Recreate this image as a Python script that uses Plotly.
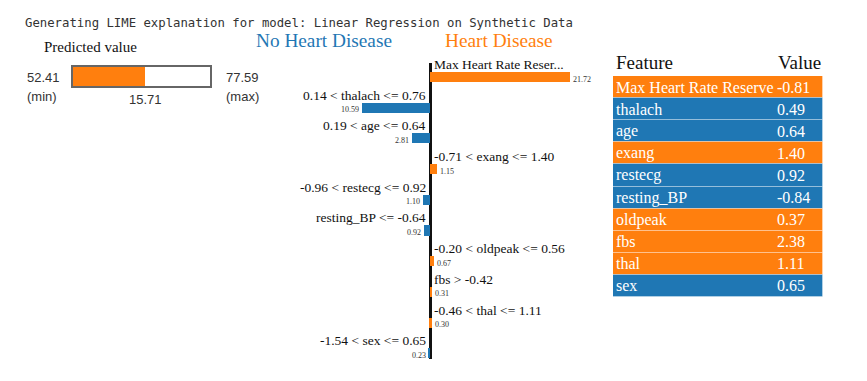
import plotly.graph_objects as go

# LIME explanation data
pred_min = 52.41
pred_max = 77.59
pred_value = 15.71
pred_fill = 65.65  # where the orange fill ends on the min..max scale

rule_labels = [
    "Max Heart Rate Reser...",
    "0.14 < thalach <= 0.76",
    "0.19 < age <= 0.64",
    "-0.71 < exang <= 1.40",
    "-0.96 < restecg <= 0.92",
    "resting_BP <= -0.64",
    "-0.20 < oldpeak <= 0.56",
    "fbs > -0.42",
    "-0.46 < thal <= 1.11",
    "-1.54 < sex <= 0.65",
]
weights = [21.72, -10.59, -2.81, 1.15, -1.10, -0.92, 0.67, 0.31, 0.30, -0.23]

table_features = ["Max Heart Rate Reserve", "thalach", "age", "exang", "restecg",
                  "resting_BP", "oldpeak", "fbs", "thal", "sex"]
table_values = ["-0.81", "0.49", "0.64", "1.40", "0.92", "-0.84", "0.37", "2.38", "1.11", "0.65"]

ORANGE = "#ff7f0e"
BLUE = "#1f77b4"
SERIF = "Liberation Serif"
SANS = "Liberation Sans"

# the page body has an 8px margin, so the figure is a bit smaller than the window
OFF = 8
W, H = 867 - OFF, 381 - OFF


def px_x(x):
    return (x - OFF) / W


def px_y(y):
    return 1 - (y - OFF) / H


def esc(s):
    return s.replace("<", "&lt;").replace(">", "&gt;")


rows = list(range(len(weights)))
colors = [ORANGE if w > 0 else BLUE for w in weights]

fig = go.Figure()

# contribution bars
fig.add_trace(go.Bar(
    x=weights, y=rows, orientation="h", width=0.33,
    marker=dict(color=colors, line=dict(width=0)),
    hoverinfo="skip", showlegend=False,
))

# predicted value bar
fig.add_trace(go.Bar(
    x=[pred_fill - pred_min], base=[pred_min], y=[0], orientation="h", width=1,
    marker=dict(color=ORANGE, line=dict(width=0)),
    xaxis="x2", yaxis="y2", hoverinfo="skip", showlegend=False,
))

# feature table row backgrounds
fig.add_trace(go.Bar(
    x=[1] * len(table_features), y=rows, orientation="h", width=1,
    marker=dict(color=colors, line=dict(color="rgba(255,255,255,0.3)", width=1)),
    xaxis="x3", yaxis="y3", hoverinfo="skip", showlegend=False,
))

annotations = []
for i, (lab, w) in enumerate(zip(rule_labels, weights)):
    annotations.append(dict(
        x=0, y=i - 0.41, xref="x", yref="y", text=esc(lab), showarrow=False,
        xanchor="right" if w < 0 else "left", yanchor="middle", xshift=-2 if w < 0 else 2,
        font=dict(family=SERIF, size=13.5, color="#111"),
    ))
    annotations.append(dict(
        x=w, y=i, xref="x", yref="y", text=f"{abs(w):.2f}", showarrow=False,
        xanchor="right" if w < 0 else "left", yanchor="middle",
        xshift=-1 if w < 0 else 1, yshift=-2,
        font=dict(family=SERIF, size=8, color="#333"),
    ))

# table cell text
for i, (f, v) in enumerate(zip(table_features, table_values)):
    annotations.append(dict(x=0, y=i, xref="x3", yref="y3", text=f, showarrow=False,
                            xanchor="left", yanchor="middle", xshift=1,
                            font=dict(family=SERIF, size=16, color="white")))
    annotations.append(dict(x=0.771, y=i, xref="x3", yref="y3", text=v, showarrow=False,
                            xanchor="left", yanchor="middle",
                            font=dict(family=SERIF, size=16, color="white")))


def paper_text(x, y, text, size, color, family, anchor="left"):
    return dict(x=px_x(x), y=px_y(y), xref="paper", yref="paper", xanchor=anchor,
                yanchor="middle", text=text, showarrow=False,
                font=dict(family=family, size=size, color=color))


# headings, table header and predicted-value text
annotations += [
    paper_text(23, 23, "Generating LIME explanation for model: Linear Regression on Synthetic Data",
               12.3, "#333", "DejaVu Sans Mono"),
    paper_text(42, 47, "Predicted value", 15, "#111", SERIF),
    paper_text(323.5, 40, "No Heart Disease", 19.3, BLUE, SERIF, "center"),
    paper_text(499, 40, "Heart Disease", 19.3, ORANGE, SERIF, "center"),
    paper_text(614, 63, "Feature", 19, "#111", SERIF),
    paper_text(823, 63, "Value", 19, "#111", SERIF, "right"),
    paper_text(25, 77, f"{pred_min:.2f}", 13, "#333", SANS),
    paper_text(25, 97, "(min)", 13, "#333", SANS),
    paper_text(224, 77, f"{pred_max:.2f}", 13, "#333", SANS),
    paper_text(224, 97, "(max)", 13, "#333", SANS),
    dict(x=pred_fill, y=px_y(100), xref="x2", yref="paper", xanchor="center", yanchor="middle",
         text=f"{pred_value:.2f}", showarrow=False, font=dict(family=SANS, size=13, color="#333")),
]

hidden = dict(showgrid=False, zeroline=False, showticklabels=False, ticks="", fixedrange=True)

fig.update_layout(
    width=W, height=H,
    margin=dict(l=0, r=0, t=0, b=0),
    paper_bgcolor="white", plot_bgcolor="rgba(0,0,0,0)",
    showlegend=False, bargap=0,
    xaxis=dict(domain=[px_x(430 - 18 * 6.44), px_x(430 + 26 * 6.44)], range=[-18, 26],
               showgrid=False, zeroline=True, zerolinecolor="#111", zerolinewidth=3,
               showticklabels=False, ticks="", showline=False, fixedrange=True),
    yaxis=dict(domain=[px_y(359), px_y(63)], range=[9.186, -0.456], visible=False),
    xaxis2=dict(domain=[px_x(73), px_x(210)], range=[pred_min, pred_max], anchor="y2",
                showline=True, mirror=True, linecolor="#666", linewidth=2, **hidden),
    yaxis2=dict(domain=[px_y(86), px_y(67)], range=[-0.5, 0.5], anchor="x2",
                showline=True, mirror=True, linecolor="#666", linewidth=2, **hidden),
    xaxis3=dict(domain=[px_x(613), px_x(823)], range=[0, 1], anchor="y3", visible=False),
    yaxis3=dict(domain=[px_y(297), px_y(76)], range=[9.5, -0.5], anchor="x3", visible=False),
    annotations=annotations,
)

fig.write_html("out.html")
